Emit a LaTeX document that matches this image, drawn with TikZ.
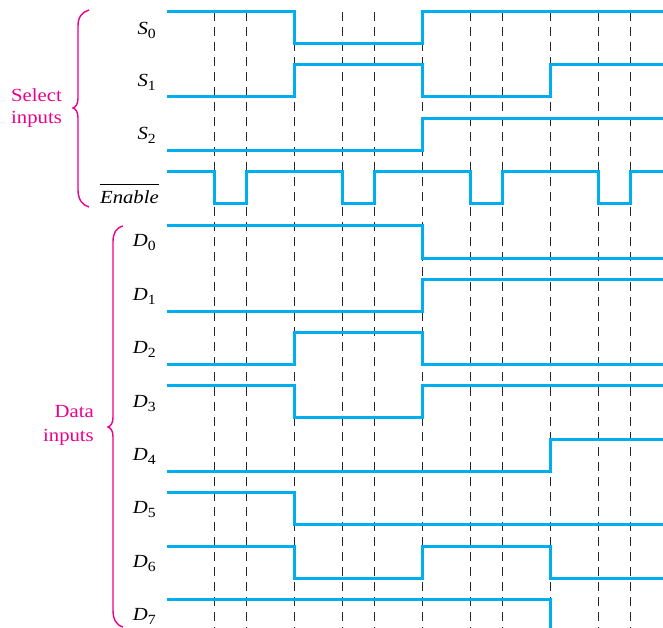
\documentclass[tikz,border=0pt]{standalone}
\usepackage{fontspec}
\newfontfamily\labfont[FakeStretch=1.12]{Liberation Serif}
\definecolor{wblue}{HTML}{00AEEF}
\definecolor{wmag}{HTML}{EC008C}
\newcommand\siglab[2]{\textit{#1}\raisebox{-4pt}{\fontsize{14}{14}\selectfont #2}}
\begin{document}
\begin{tikzpicture}[x=1pt,y=-1pt,
  wave/.style={draw=wblue,line width=3pt},
  guide/.style={draw=black!85,line width=0.9pt,dash pattern=on 9pt off 6pt},
  brc/.style={draw=wmag,line width=1.4pt},
  lab/.style={inner sep=0pt,anchor=base east,font=\labfont\fontsize{18.5}{22}\selectfont},
  grp/.style={inner sep=0pt,text=wmag,font=\labfont\fontsize{18.5}{22}\selectfont}]
\useasboundingbox (0,0) rectangle (663,628);
\clip (0,0) rectangle (663,628);
% dashed guides
\foreach \x in {214,246,294,342,374,422,470,502,550,598,630}
  \draw[guide] (\x,12) -- (\x,640);
% waveforms
\draw[wave] (167,12) -- (294,12) -- (294,44) -- (422,44) -- (422,12) -- (665,12);
\draw[wave] (167,97) -- (294,97) -- (294,65) -- (422,65) -- (422,97) -- (550,97) -- (550,65) -- (665,65);
\draw[wave] (167,151) -- (422,151) -- (422,119) -- (665,119);
\draw[wave] (167,172) -- (214,172) -- (214,204) -- (246,204) -- (246,172) -- (342,172) -- (342,204) -- (374,204) -- (374,172) -- (470,172) -- (470,204) -- (502,204) -- (502,172) -- (598,172) -- (598,204) -- (630,204) -- (630,172) -- (665,172);
\draw[wave] (167,226) -- (422,226) -- (422,258) -- (665,258);
\draw[wave] (167,311) -- (422,311) -- (422,279) -- (665,279);
\draw[wave] (167,364) -- (294,364) -- (294,332) -- (422,332) -- (422,364) -- (665,364);
\draw[wave] (167,385) -- (294,385) -- (294,417) -- (422,417) -- (422,385) -- (665,385);
\draw[wave] (167,471) -- (550,471) -- (550,439) -- (665,439);
\draw[wave] (167,492) -- (294,492) -- (294,524) -- (665,524);
\draw[wave] (167,546) -- (294,546) -- (294,578) -- (422,578) -- (422,546) -- (550,546) -- (550,578) -- (665,578);
\draw[wave] (167,599) -- (550,599) -- (550,645);
% signal labels
\node[lab] (s0) at (156,35) {\siglab{S}{0}};
\node[lab] (s1) at (156,87) {\siglab{S}{1}};
\node[lab] (s2) at (156,140) {\siglab{S}{2}};
\node[lab] (en) at (159,204) {\textit{Enable}};
\draw[line width=0.9pt] ([yshift=6.5pt]en.north west) -- ([yshift=6.5pt]en.north east);
\node[lab] (d0) at (156,247) {\siglab{D}{0}};
\node[lab] (d1) at (156,300) {\siglab{D}{1}};
\node[lab] (d2) at (156,353) {\siglab{D}{2}};
\node[lab] (d3) at (156,407) {\siglab{D}{3}};
\node[lab] (d4) at (156,460) {\siglab{D}{4}};
\node[lab] (d5) at (156,513) {\siglab{D}{5}};
\node[lab] (d6) at (156,567) {\siglab{D}{6}};
\node[lab] (d7) at (156,620) {\siglab{D}{7}};
% group labels
\node[grp,anchor=base] (sel1) at (36.5,102) {Select};
\node[grp,anchor=base] (sel2) at (36.5,124) {inputs};
\node[grp,anchor=base east] (dat1) at (94,417) {Data};
\node[grp,anchor=base east] (dat2) at (94,441) {inputs};
% braces
\draw[brc] (89,10) .. controls (82,12) and (78,17) .. (78,26) -- (78,98)
  .. controls (78,104) and (76,107) .. (73,108)
  .. controls (76,109) and (78,112) .. (78,118) -- (78,190)
  .. controls (78,199) and (82,205) .. (89,207);
\draw[brc] (123,226) .. controls (116,228) and (113,233) .. (113,242) -- (113,417)
  .. controls (113,423) and (111,426) .. (108,427)
  .. controls (111,428) and (113,431) .. (113,437) -- (113,610)
  .. controls (113,619) and (116,625) .. (123,627);
\end{tikzpicture}
\end{document}
